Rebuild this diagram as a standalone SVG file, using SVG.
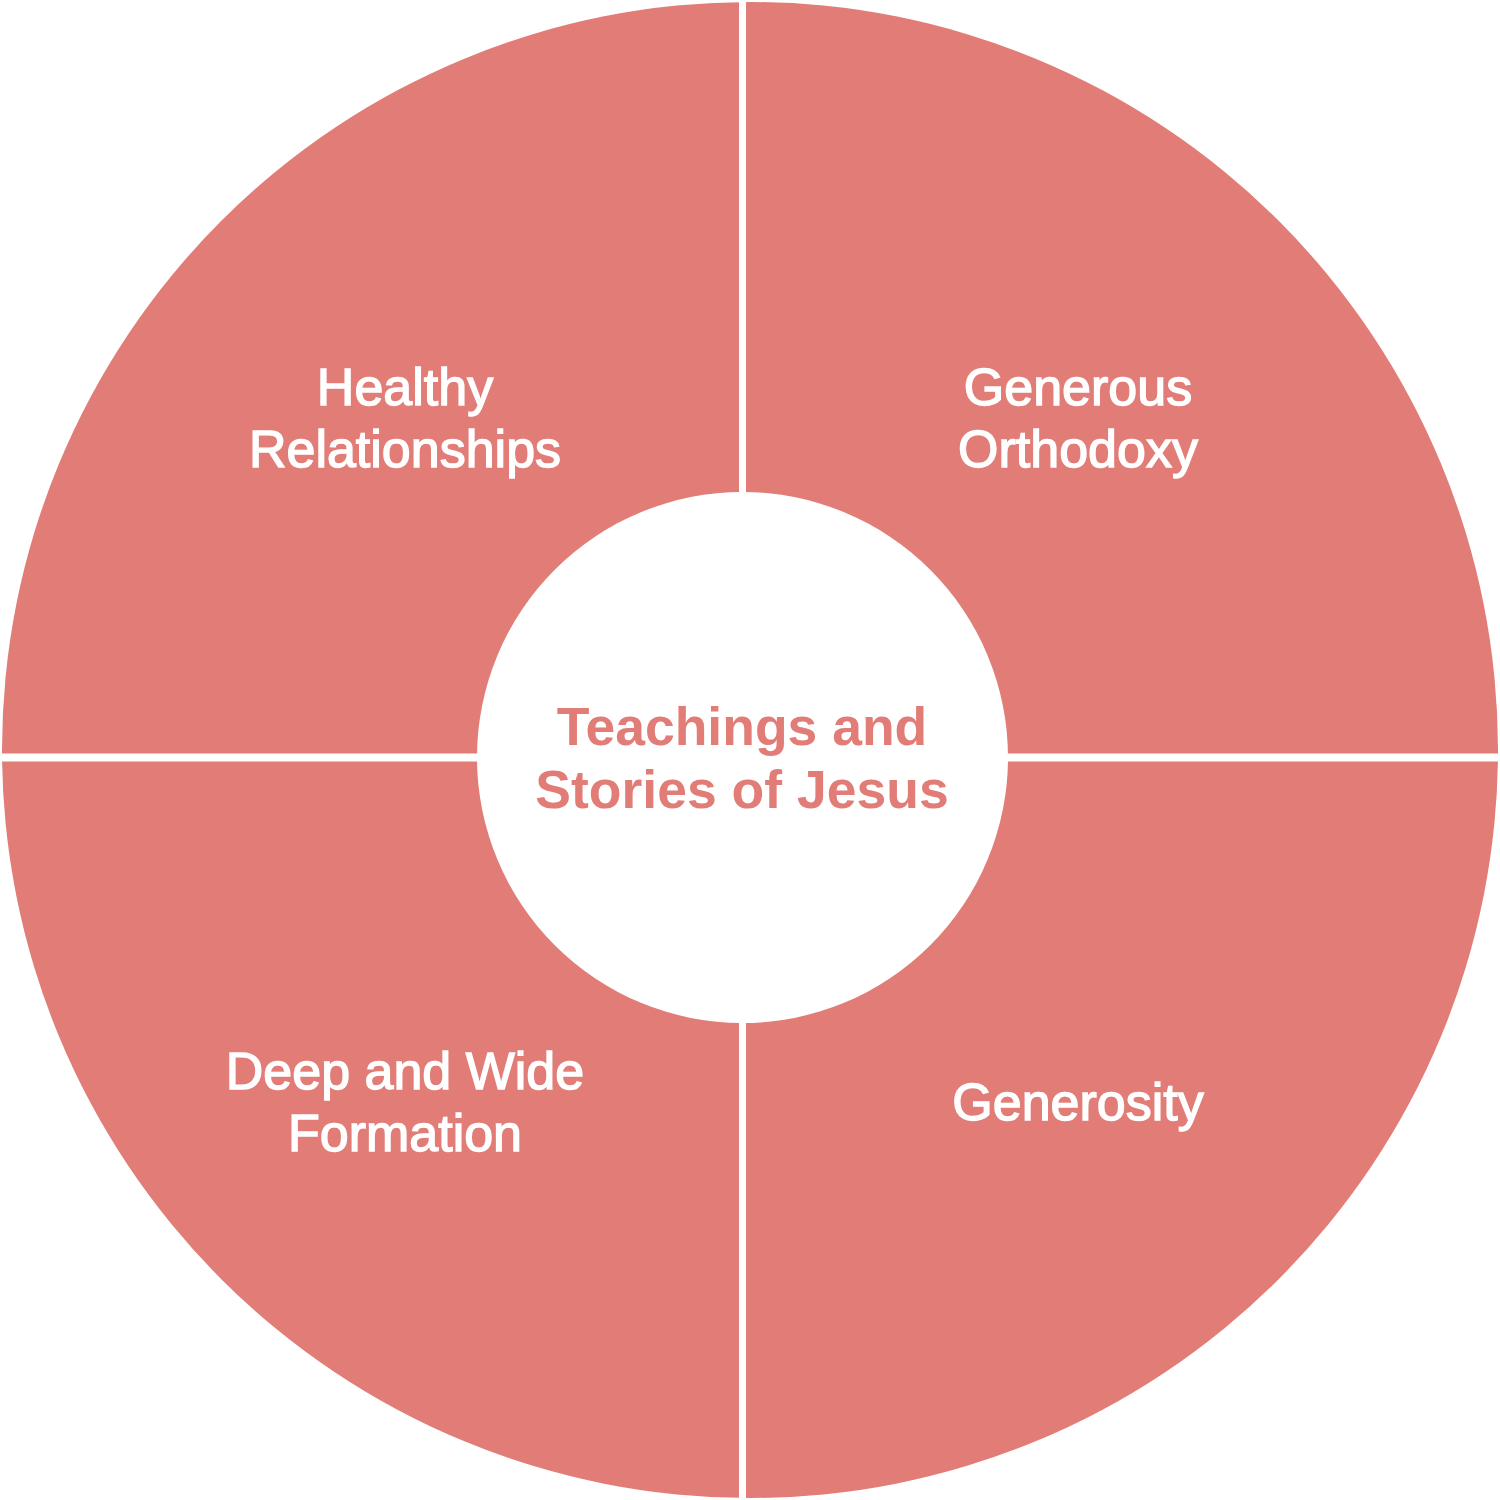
<svg xmlns="http://www.w3.org/2000/svg" width="1500" height="1500" viewBox="0 0 1500 1500">
<style>
.seg{fill:#E17C77}
.lbl{font-family:"Liberation Sans",Arial,sans-serif;font-size:52px;fill:#FFFFFF;stroke:#FFFFFF;stroke-width:1.4;text-anchor:middle}
.ctr{font-family:"Liberation Sans",Arial,sans-serif;font-size:53.5px;font-weight:bold;fill:#E17C77;text-anchor:middle}
.div{stroke:#FFFFFF;fill:none}
</style>
<rect width="1500" height="1500" fill="#FFFFFF"/>
<g id="ring">
<circle class="seg" cx="750" cy="750" r="748"/>
</g>
<g id="connectors">
<line class="div" x1="742.5" y1="0" x2="742.5" y2="1500" stroke-width="7"/>
<line class="div" x1="0" y1="757.5" x2="1500" y2="757.5" stroke-width="8"/>
</g>
<g id="center">
<circle cx="742.5" cy="757.5" r="265.5" fill="#FFFFFF"/>
<text class="ctr" x="742" y="745">Teachings and</text>
<text class="ctr" x="742" y="808">Stories of Jesus</text>
</g>
<g id="healthy-relationships">
<text class="lbl" x="405" y="405">Healthy</text>
<text class="lbl" x="405" y="467">Relationships</text>
</g>
<g id="generous-orthodoxy">
<text class="lbl" x="1078" y="405">Generous</text>
<text class="lbl" x="1078" y="467">Orthodoxy</text>
</g>
<g id="deep-and-wide-formation">
<text class="lbl" x="405" y="1089">Deep and Wide</text>
<text class="lbl" x="405" y="1151">Formation</text>
</g>
<g id="generosity">
<text class="lbl" x="1078" y="1120">Generosity</text>
</g>
</svg>
